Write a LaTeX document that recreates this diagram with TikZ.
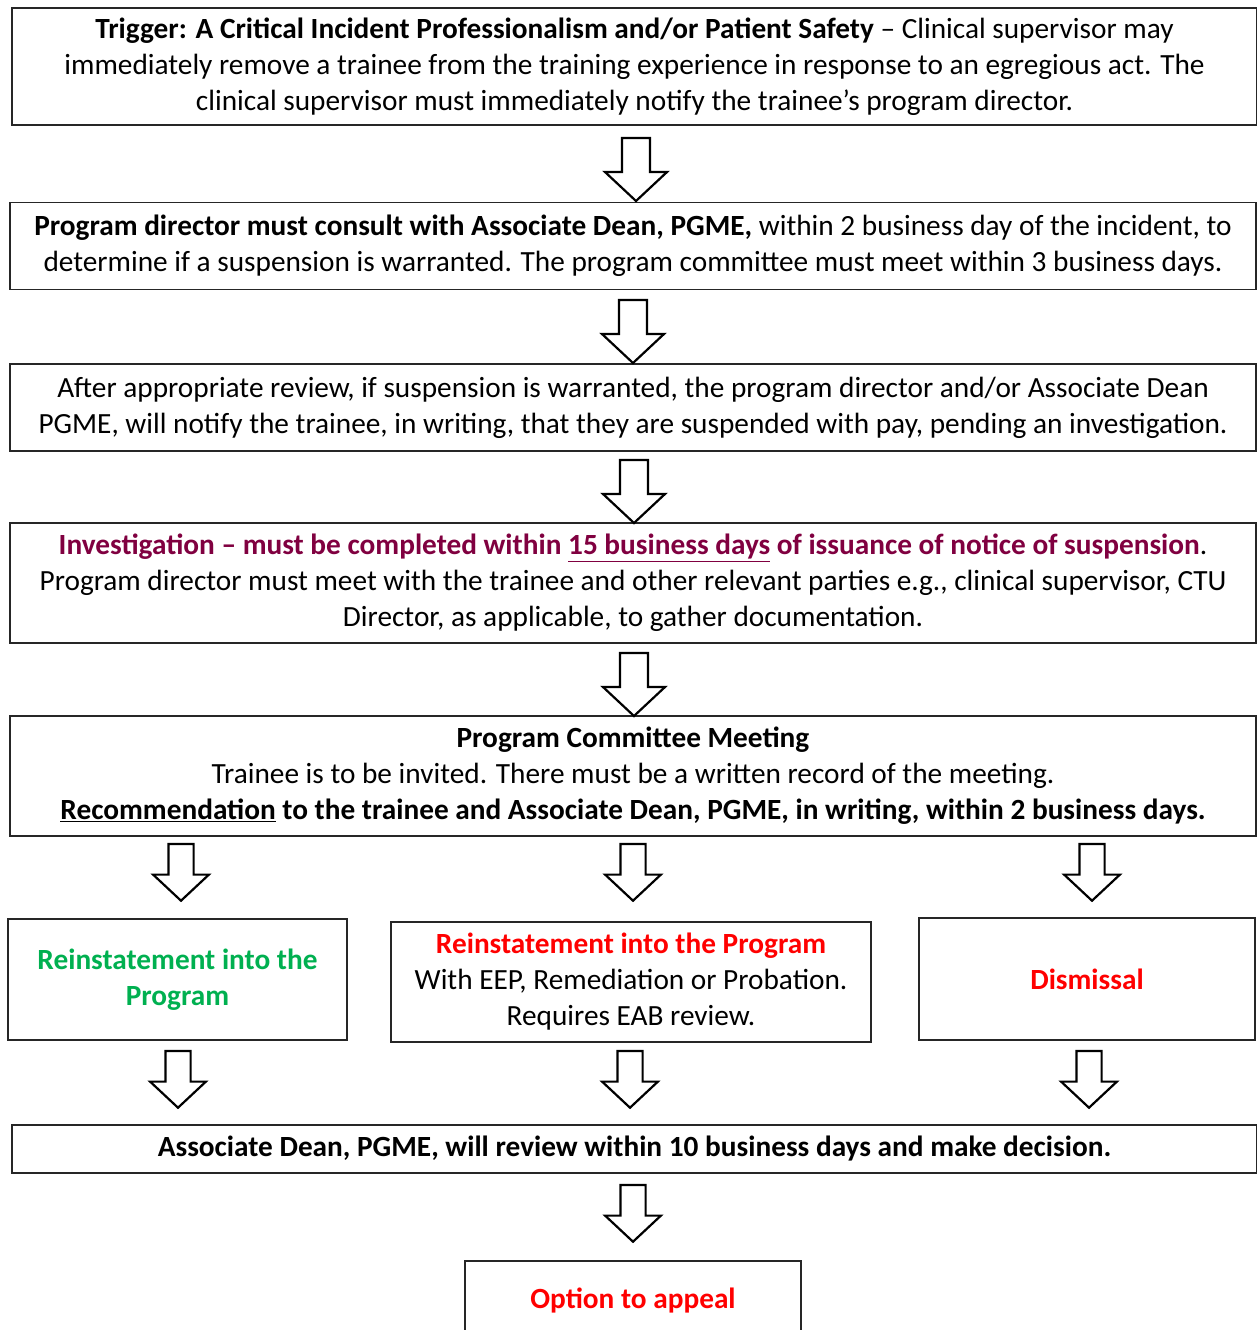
\documentclass[tikz,border=0pt]{standalone}
\usepackage{fontspec}
\setmainfont{Carlito}
\definecolor{invpurple}{RGB}{128,0,64}
\definecolor{okgreen}{RGB}{0,176,80}
\definecolor{alertred}{RGB}{255,0,0}
\begin{document}
\begin{tikzpicture}[x=1pt,y=-1pt,
  box/.style={draw=black!85, line width=1.3pt, align=center, inner sep=0pt, font=\fontsize{29.3}{36}\selectfont},
  arrowline/.style={draw=black, line width=2.2pt, fill=white, line join=miter},
  blockarrow/.pic={\path[arrowline] (-14,0) -- (14,0) -- (14,34) -- (31,34) -- (0,63) -- (-31,34) -- (-14,34) -- cycle;}
]
\useasboundingbox (0,0) rectangle (1257,1330);

\node[box, minimum width=1245, minimum height=117] (trigger) at (634.5,66.5)
  {\textbf{Trigger: A Critical Incident Professionalism and/or Patient Safety} – Clinical supervisor may\\
   immediately remove a trainee from the training experience in response to an egregious act. The\\
   clinical supervisor must immediately notify the trainee’s program director.};

\node[box, minimum width=1246, minimum height=87] (consult) at (633,246)
  {\textbf{Program director must consult with Associate Dean, PGME,} within 2 business day of the incident, to\\
   determine if a suspension is warranted. The program committee must meet within 3 business days.};

\node[box, minimum width=1246, minimum height=87] (review) at (633,407.5)
  {After appropriate review, if suspension is warranted, the program director and/or Associate Dean\\
   PGME, will notify the trainee, in writing, that they are suspended with pay, pending an investigation.};

\node[box, minimum width=1246, minimum height=120] (invest) at (633,583)
  {{\color{invpurple}\bfseries Investigation – must be completed within \underline{15 business days} of issuance of notice of suspension}.\\
   Program director must meet with the trainee and other relevant parties e.g., clinical supervisor, CTU\\
   Director, as applicable, to gather documentation.};

\node[box, minimum width=1246, minimum height=120] (committee) at (633,776)
  {\textbf{Program Committee Meeting}\\
   Trainee is to be invited. There must be a written record of the meeting.\\
   \textbf{\underline{Recommendation} to the trainee and Associate Dean, PGME, in writing, within 2 business days.}};

\node[box, minimum width=339, minimum height=121, text=okgreen, font=\fontsize{29.3}{36}\selectfont\bfseries] (reinstate) at (177.5,979.5)
  {Reinstatement into the\\ Program};

\node[box, minimum width=480, minimum height=120] (reinstateEEP) at (631,982)
  {\textcolor{alertred}{\bfseries Reinstatement into the Program}\\
   With EEP, Remediation or Probation.\\
   Requires EAB review.};

\node[box, minimum width=336, minimum height=122, text=alertred, font=\fontsize{29.3}{36}\selectfont\bfseries] (dismissal) at (1087,979)
  {Dismissal};

\node[box, minimum width=1245, minimum height=48] (dean) at (634.5,1149)
  {\textbf{Associate Dean, PGME, will review within 10 business days and make decision.}};

\node[box, minimum width=336, minimum height=78, text=alertred, font=\fontsize{29.3}{36}\selectfont\bfseries] (appeal) at (633,1300)
  {Option to appeal};

\pic at (636,138) {blockarrow};
\pic at (633,300) {blockarrow};
\pic at (634,460) {blockarrow};
\pic at (634,653) {blockarrow};

\pic[scale=0.9] at (181,844) {blockarrow};
\pic[scale=0.9] at (633,844) {blockarrow};
\pic[scale=0.9] at (1092,844) {blockarrow};

\pic[scale=0.9] at (178,1051) {blockarrow};
\pic[scale=0.9] at (630,1051) {blockarrow};
\pic[scale=0.9] at (1089,1051) {blockarrow};

\pic[scale=0.9] at (633,1185) {blockarrow};
\end{tikzpicture}
\end{document}
